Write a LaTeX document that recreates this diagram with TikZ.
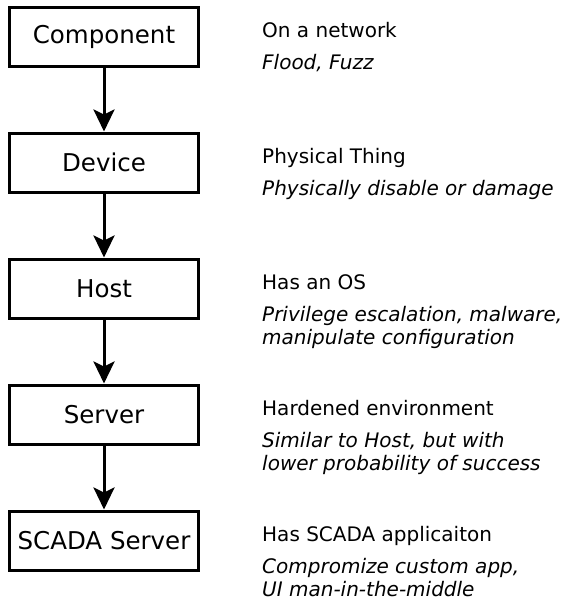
\documentclass[tikz,border=0pt]{standalone}
\usepackage{fontspec}
\setmainfont{DejaVu Sans}
\usetikzlibrary{positioning,arrows.meta}
\tikzset{
    level-box/.style = {draw=black, line width=3pt, rectangle, minimum width=189pt, minimum height=59pt, inner sep=0pt, font=\fontsize{24.5}{29}\selectfont},
    level-title/.style = {anchor=base west, inner sep=0pt, font=\fontsize{20}{23}\selectfont},
    level-detail/.style = {anchor=north west, align=left, inner sep=0pt, font=\fontsize{20}{23.5}\selectfont\itshape},
    level-arrow/.style = {line width=3pt, -{Stealth[length=22pt, width=21pt, inset=5pt]}},
}
\begin{document}
\begin{tikzpicture}[node distance=64pt]
\useasboundingbox (0,0) rectangle (566pt,-603pt);
\node [level-box] (component) at (104pt,-36.5pt) {Component};
\node [level-box, below=of component] (device) {Device};
\node [level-box, below=of device] (host) {Host};
\node [level-box, below=of host] (server) {Server};
\node [level-box, below=of server] (scada) {SCADA Server};
\draw [level-arrow] (component) -- (device);
\draw [level-arrow] (device) -- (host);
\draw [level-arrow] (host) -- (server);
\draw [level-arrow] (server) -- (scada);
\node [level-title] (component-title) at ([xshift=62pt, yshift=-1pt]component.east) {On a network};
\node [level-detail, below=16.5pt of component-title.base west, anchor=north west] (component-detail) {Flood, Fuzz};
\node [level-title] (device-title) at ([xshift=62pt, yshift=-1pt]device.east) {Physical Thing};
\node [level-detail, below=16.5pt of device-title.base west, anchor=north west] (device-detail) {Physically disable or damage};
\node [level-title] (host-title) at ([xshift=62pt, yshift=-1pt]host.east) {Has an OS};
\node [level-detail, below=16.5pt of host-title.base west, anchor=north west] (host-detail) {Privilege escalation, malware,\\manipulate configuration};
\node [level-title] (server-title) at ([xshift=62pt, yshift=-1pt]server.east) {Hardened environment};
\node [level-detail, below=16.5pt of server-title.base west, anchor=north west] (server-detail) {Similar to Host, but with\\lower probability of success};
\node [level-title] (scada-title) at ([xshift=62pt, yshift=-1pt]scada.east) {Has SCADA applicaiton};
\node [level-detail, below=16.5pt of scada-title.base west, anchor=north west] (scada-detail) {Compromize custom app,\\UI man-in-the-middle};
\end{tikzpicture}
\end{document}
